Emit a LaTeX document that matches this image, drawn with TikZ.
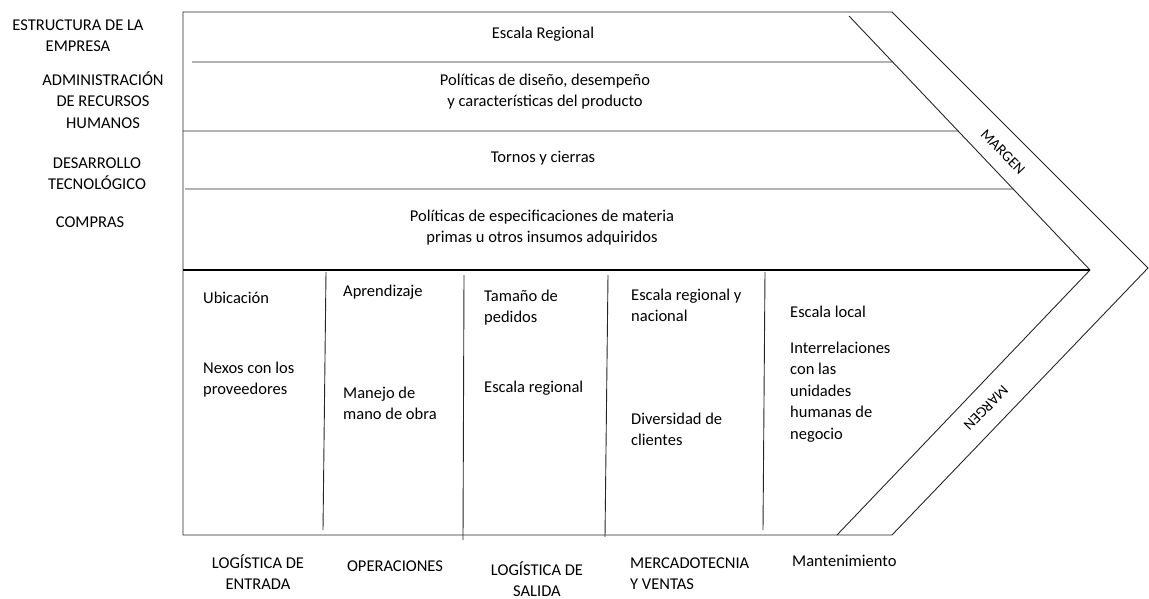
\documentclass[tikz,border=0pt]{standalone}
\usepackage{fontspec}
\setmainfont{Carlito}
\newcommand\bodyfont{\fontsize{16.5}{21.5}\selectfont}
\begin{document}
\begin{tikzpicture}[x=1pt,y=-1pt,
  ln/.style={line width=0.9pt, draw=black!85},
  thk/.style={line width=2.2pt, draw=black},
  txt/.style={inner sep=0pt, font=\bodyfont, align=left, anchor=north west},
  ctxt/.style={inner sep=0pt, font=\bodyfont, align=center, anchor=north},
  mg/.style={inner sep=0pt, font=\fontsize{15}{18}\selectfont}]
\useasboundingbox (0,0) rectangle (1149,599);
% frame
\coordinate (TL) at (183,12);
\coordinate (TR) at (892,12);
\coordinate (O)  at (1148,268);
\coordinate (BR) at (892,535);
\coordinate (BL) at (183,535);
\coordinate (I1) at (849,16);
\coordinate (I2) at (1090,270);
\coordinate (I3) at (837,535);
\draw[ln] (TR) -- (TL) -- (BL) -- (BR) -- (O) -- cycle;
\draw[ln] (I1) -- (I2) -- (I3);
% horizontal separators of the support activities
\coordinate (h1a) at (192,62);  \coordinate (h1b) at (1149,62);
\coordinate (h2a) at (183,131); \coordinate (h2b) at (1149,131);
\coordinate (h3a) at (185,189); \coordinate (h3b) at (1149,189);
\coordinate (M)   at (183,270);
\draw[ln] (h1a) -- (intersection of h1a--h1b and I1--I2);
\draw[ln] (h2a) -- (intersection of h2a--h2b and I1--I2);
\draw[ln] (h3a) -- (intersection of h3a--h3b and I1--I2);
\draw[thk] (M) -- (I2);
% column dividers
\coordinate (d1t) at (326,272); \coordinate (d1b) at (323,530);
\coordinate (d2t) at (464,275); \coordinate (d2b) at (463,540);
\coordinate (d3t) at (608,275); \coordinate (d3b) at (605,537);
\coordinate (d4t) at (765,272); \coordinate (d4b) at (763,530);
\draw[ln] (d1t) -- (d1b);
\draw[ln] (d2t) -- (d2b);
\draw[ln] (d3t) -- (d3b);
\draw[ln] (d4t) -- (d4b);
% left labels
\node[ctxt] (estr) at (78,15) {\strut ESTRUCTURA DE LA\\EMPRESA};
\node[ctxt] (admin) at (103,70) {\strut ADMINISTRACIÓN\\DE RECURSOS\\HUMANOS};
\node[ctxt] (desa) at (97,153) {\strut DESARROLLO\\TECNOLÓGICO};
\node[ctxt] (comp) at (90,212) {\strut COMPRAS};
% support activity texts
\node[ctxt] (s1) at (543,23) {\strut Escala Regional};
\node[ctxt] (s2) at (545,70) {\strut Políticas de diseño, desempeño\\y características del producto};
\node[ctxt] (s3) at (543,147) {\strut Tornos y cierras};
\node[ctxt] (s4) at (542,206) {\strut Políticas de especificaciones de materia\\primas u otros insumos adquiridos};
% primary activity texts
\node[txt] (c1a) at (203,288) {\strut Ubicación};
\node[txt] (c1b) at (203,358) {\strut Nexos con los\\proveedores};
\node[txt] (c2a) at (343,281) {\strut Aprendizaje};
\node[txt] (c2b) at (343,383) {\strut Manejo de\\mano de obra};
\node[txt] (c3a) at (484,286) {\strut Tamaño de\\pedidos};
\node[txt] (c3b) at (484,377) {\strut Escala regional};
\node[txt] (c4a) at (631,285) {\strut Escala regional y\\nacional};
\node[txt] (c4b) at (631,409) {\strut Diversidad de\\clientes};
\node[txt] (c5a) at (790,302) {\strut Escala local};
\node[txt] (c5b) at (790,338) {\strut Interrelaciones\\con las\\unidades\\humanas de\\negocio};
% bottom labels
\node[ctxt] (b1) at (258,553) {\strut LOGÍSTICA DE\\ENTRADA};
\node[ctxt] (b2) at (395,556) {\strut OPERACIONES};
\node[ctxt] (b3) at (537,560) {\strut LOGÍSTICA DE\\SALIDA};
\node[txt] (b4) at (630,553) {\strut MERCADOTECNIA\\Y VENTAS};
\node[txt] (b5) at (792,551) {\strut Mantenimiento};
% margin labels
\node[mg, rotate=-45.5] (m1) at (1003,152) {MARGEN};
\node[mg, rotate=225] (m2) at (986,408) {MARGEN};
\end{tikzpicture}
\end{document}
